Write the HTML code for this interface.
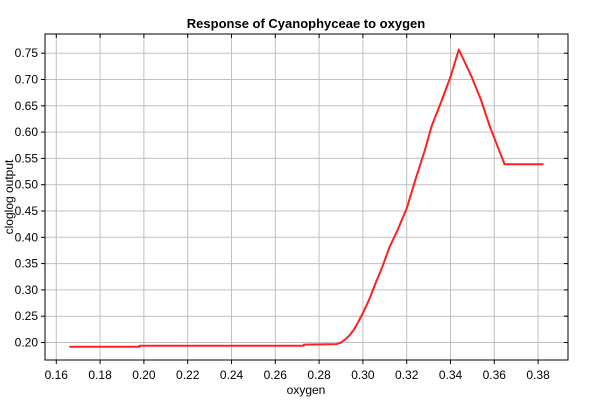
<!DOCTYPE html>
<html><head><meta charset="utf-8"><style>
html,body{margin:0;padding:0;background:#fff;}
svg{display:block;font-family:"Liberation Sans",sans-serif;}
</style></head><body>
<svg id="c" width="600" height="400">
<text x="306" y="28" text-anchor="middle" font-size="13" font-weight="bold">Response of Cyanophyceae to oxygen</text>
<g id="grid"></g>
<g id="xt"></g>
<g id="yt"></g>
<path id="line" fill="none" stroke="#ff2020" stroke-width="2" stroke-linejoin="round"/>
<rect x="45" y="34" width="523" height="326" fill="none" stroke="#000" stroke-width="1"/>
<text x="306" y="394" text-anchor="middle" font-size="12">oxygen</text>
<text transform="translate(13,197) rotate(-90)" text-anchor="middle" font-size="12">cloglog output</text>
</svg>
<script>
const xs=[0.166,0.198,0.198,0.273,0.273,0.288,0.290,0.292,0.294,0.296,0.298,0.300,0.303,0.3058,0.309,0.312,0.316,0.320,0.324,0.3283,0.3313,0.336,0.340,0.3438,0.3497,0.354,0.358,0.3647,0.3825];
const ys=[0.192,0.192,0.194,0.194,0.196,0.197,0.200,0.206,0.214,0.225,0.240,0.256,0.283,0.313,0.345,0.380,0.415,0.455,0.510,0.566,0.610,0.660,0.705,0.757,0.705,0.660,0.610,0.539,0.539];
const xTicks=[0.16,0.18,0.20,0.22,0.24,0.26,0.28,0.30,0.32,0.34,0.36,0.38];
const yTicks=[0.20,0.25,0.30,0.35,0.40,0.45,0.50,0.55,0.60,0.65,0.70,0.75];
const X=v=>56.3+(v-0.16)*2190;
const Y=v=>342.5-(v-0.20)*526;
const NS='http://www.w3.org/2000/svg';
const grid=document.getElementById('grid'),xt=document.getElementById('xt'),yt=document.getElementById('yt');
function mk(tag,attrs,parent){const e=document.createElementNS(NS,tag);for(const k in attrs)e.setAttribute(k,attrs[k]);parent.appendChild(e);return e;}
xTicks.forEach(t=>{const x=X(t).toFixed(1);
 const g=mk('line',{x1:x,x2:x,y1:34,y2:360,stroke:'#c0c0c0'},grid);
 
 
 mk('line',{x1:x,x2:x,y1:360,y2:364,stroke:'#000'},xt);
 mk('line',{x1:x,x2:x,y1:34,y2:38,stroke:'#000'},xt);
 const l=mk('text',{x:x,y:379,'text-anchor':'middle','font-size':'12'},xt);l.textContent=t.toFixed(2);
 
 
});
yTicks.forEach(t=>{const y=Y(t).toFixed(1);
 const g=mk('line',{x1:45,x2:568,y1:y,y2:y,stroke:'#c0c0c0'},grid);
 
 
 mk('line',{x1:41,x2:45,y1:y,y2:y,stroke:'#000'},yt);
 mk('line',{x1:564,x2:568,y1:y,y2:y,stroke:'#000'},yt);
 const l=mk('text',{x:38,y:+y+4,'text-anchor':'end','font-size':'12'},yt);l.textContent=t.toFixed(2);
 
 
});
document.getElementById('line').setAttribute('d',xs.map((v,i)=>(i?'L':'M')+X(v).toFixed(1)+','+Y(ys[i]).toFixed(1)).join(''));
</script>
</body></html>
